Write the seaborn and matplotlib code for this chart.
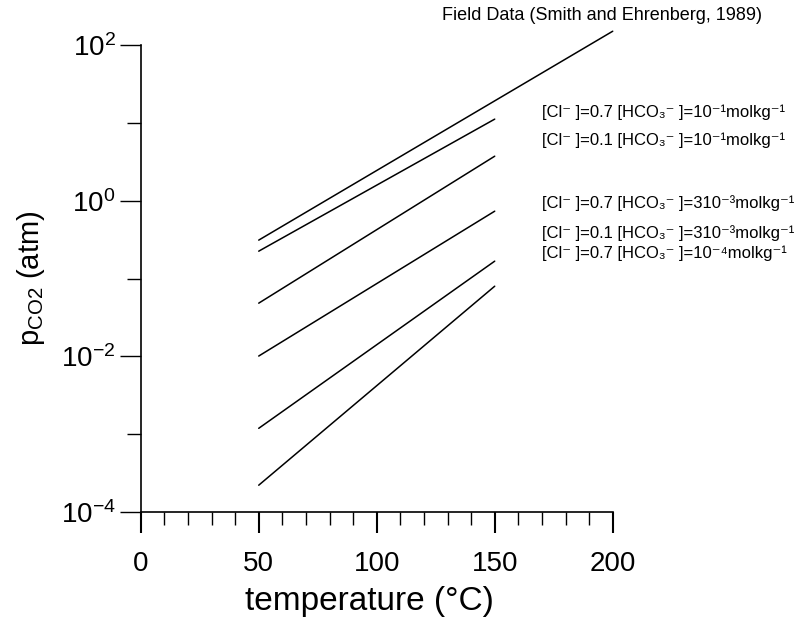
import seaborn as sns
import matplotlib.pyplot as plt
import numpy as np
import pandas as pd

# Datos (extremos de cada recta)
series = ["field", "c07_h1", "c01_h1", "c07_h3", "c01_h3", "c07_h4"]
x_start = [50, 50, 50, 50, 50, 50]
x_end = [200, 150, 150, 150, 150, 150]
pco2_start = [0.312, 0.225, 0.0483, 0.0101, 0.00119, 0.000221]
pco2_end = [151, 11.2, 3.74, 0.735, 0.1675, 0.0798]

labels = [
    "[Cl⁻ ]=0.7 [HCO₃⁻ ]=10⁻¹molkg⁻¹",
    "[Cl⁻ ]=0.1 [HCO₃⁻ ]=10⁻¹molkg⁻¹",
    "[Cl⁻ ]=0.7 [HCO₃⁻ ]=310⁻³molkg⁻¹",
    "[Cl⁻ ]=0.1 [HCO₃⁻ ]=310⁻³molkg⁻¹",
    "[Cl⁻ ]=0.7 [HCO₃⁻ ]=10⁻⁴molkg⁻¹",
]
label_y = [13.8, 6.0, 0.93, 0.384, 0.212]

rows = []
for s, x0, x1, y0, y1 in zip(series, x_start, x_end, pco2_start, pco2_end):
    rows.append({"serie": s, "T": x0, "pco2": y0})
    rows.append({"serie": s, "T": x1, "pco2": y1})
df = pd.DataFrame(rows)

sns.set_theme(style="ticks")
plt.rcParams["font.family"] = ["Liberation Sans", "DejaVu Sans"]
plt.rcParams["mathtext.fontset"] = "custom"
plt.rcParams["mathtext.rm"] = "Liberation Sans"
plt.rcParams["mathtext.it"] = "Liberation Sans"
plt.rcParams["text.color"] = "black"
plt.rcParams["axes.labelcolor"] = "black"

fig = plt.figure(figsize=(8, 6.27), dpi=100)
ax = fig.add_axes([0.1759, 0.1834, 0.59, 0.7446])

sns.lineplot(data=df, x="T", y="pco2", hue="serie",
             palette=["black"] * len(series), legend=False,
             linewidth=1.1, ax=ax, clip_on=False)

ax.set_yscale("log")
ax.set_xlim(0, 200)
ax.set_ylim(1e-4, 1e2)
ax.set_xticks([0, 50, 100, 150, 200])
ax.set_xticks(np.arange(0, 201, 10), minor=True)
ax.set_yticks([1e-4, 1e-2, 1e0, 1e2])
ax.set_yticks([1e-3, 1e-1, 1e1], minor=True)
ax.yaxis.set_minor_formatter(plt.NullFormatter())

for sp in ["top", "right"]:
    ax.spines[sp].set_visible(False)
for sp in ["left", "bottom"]:
    ax.spines[sp].set_linewidth(1.2)
    ax.spines[sp].set_color("black")

ax.tick_params(axis="x", which="major", length=15, width=1.5, labelsize=20,
               pad=13, colors="black")
ax.tick_params(axis="x", which="minor", length=9.5, width=1.0, colors="black")
ax.tick_params(axis="y", which="major", length=15, width=1.0, labelsize=20,
               pad=3, colors="black")
ax.tick_params(axis="y", which="minor", length=10, width=1.0, colors="black")

ax.set_xlabel("temperature (°C)", fontsize=24)
ax.xaxis.set_label_coords(0.485, -0.158)
ax.set_ylabel(r"p$_{\mathregular{CO2}}$ (atm)", fontsize=21, labelpad=10)

ax.text(127.7, 243, "Field Data (Smith and Ehrenberg, 1989)", fontsize=13,
        va="center", ha="left", clip_on=False)
for txt, yy in zip(labels, label_y):
    ax.text(170, yy, txt, fontsize=12, va="center", ha="left", clip_on=False)

fig.savefig("out.png", dpi=100, facecolor="white")
